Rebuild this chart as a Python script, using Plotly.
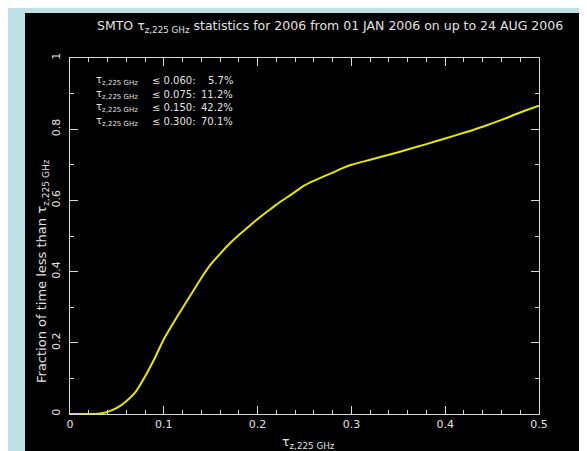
import plotly.graph_objects as go

# ---- data ----
tau = [0.0, 0.02, 0.03, 0.04, 0.05, 0.06, 0.07, 0.08, 0.09, 0.10,
       0.11, 0.12, 0.13, 0.14, 0.15, 0.16, 0.17, 0.18, 0.19, 0.20,
       0.21, 0.22, 0.23, 0.24, 0.25, 0.26, 0.27, 0.28, 0.29, 0.30,
       0.32, 0.34, 0.36, 0.38, 0.40, 0.42, 0.44, 0.46, 0.48, 0.50]
frac = [0.0, 0.0, 0.001, 0.006, 0.017, 0.036, 0.062, 0.105, 0.155, 0.21,
        0.255, 0.298, 0.34, 0.382, 0.42, 0.45, 0.478, 0.503, 0.525, 0.548,
        0.568, 0.588, 0.606, 0.624, 0.642, 0.655, 0.667, 0.678, 0.69, 0.70,
        0.714, 0.728, 0.743, 0.758, 0.774, 0.79, 0.807, 0.826, 0.847, 0.866]

thresholds = ["0.060", "0.075", "0.150", "0.300"]
percents = ["5.7%", "11.2%", "42.2%", "70.1%"]

x_ticks = [0, 0.1, 0.2, 0.3, 0.4, 0.5]
x_ticklabels = ["0", "0.1", "0.2", "0.3", "0.4", "0.5"]
y_ticks = [0, 0.2, 0.4, 0.6, 0.8, 1]
y_ticklabels = ["0", "0.2", "0.4", "0.6", "0.8", "1"]

# ---- layout geometry (pixels) ----
W, H = 587, 451
L, R, T, B = 62, 531, 50, 406   # plot box


def px(x):
    return (x - L) / (R - L)


def py(y):
    return (B - y) / (B - T)


TXT = "#e2e2e2"
FONT = "DejaVu Sans"
sub = "τ<sub>z,225 GHz</sub>"

fig = go.Figure()
fig.add_trace(go.Scatter(x=tau, y=frac, mode="lines",
                         line=dict(color="#e6e600", width=2, shape="spline",
                                   smoothing=0.6),
                         hoverinfo="skip", showlegend=False))

axis_common = dict(showline=True, linecolor="#d8d8d8", linewidth=1,
                   mirror="ticks", ticks="inside", tickcolor="#d8d8d8",
                   tickwidth=1, ticklen=8, showgrid=False, zeroline=False,
                   tickfont=dict(family=FONT, size=11, color=TXT),
                   layer="below traces")

fig.update_xaxes(range=[0, 0.5], tickvals=x_ticks, ticktext=x_ticklabels,
                 minor=dict(dtick=0.02, tick0=0, ticks="inside", ticklen=4,
                            tickcolor="#d8d8d8", showgrid=False),
                 **axis_common)
fig.update_yaxes(range=[0, 1], tickvals=y_ticks, ticktext=y_ticklabels,
                 tickangle=-90, ticklabelstandoff=5,
                 minor=dict(dtick=0.1, tick0=0, ticks="inside", ticklen=4,
                            tickcolor="#d8d8d8", showgrid=False),
                 **axis_common)

annotations = [
    dict(text=f"SMTO {sub} statistics for 2006 from 01 JAN 2006 on up to 24 AUG 2006",
         x=px(322), y=py(18), xanchor="center", yanchor="middle", size=12.5),
    dict(text=sub, x=px(300), y=py(434), xanchor="center", yanchor="middle", size=12.5),
    dict(text=f"Fraction of time less than {sub}", x=px(34), y=py(263),
         textangle=-90, xanchor="center", yanchor="middle", size=13),
]
row_y = [72, 86, 99.5, 113]
for yy, th, pc in zip(row_y, thresholds, percents):
    annotations.append(dict(text=sub, x=px(86), y=py(yy), xanchor="left", yanchor="middle", size=10))
    annotations.append(dict(text=f"≤ {th}:", x=px(142), y=py(yy), xanchor="left", yanchor="middle", size=10))
    annotations.append(dict(text=pc, x=px(227), y=py(yy), xanchor="right", yanchor="middle", size=10))

for a in annotations:
    s = a.pop("size")
    a.update(xref="paper", yref="paper", showarrow=False,
             font=dict(family=FONT, size=s, color=TXT))

fig.update_layout(
    width=W, height=H,
    margin=dict(l=L, r=W - R, t=T, b=H - B, pad=0),
    paper_bgcolor="#bde2e6",
    plot_bgcolor="#000000",
    annotations=annotations,
    shapes=[dict(type="rect", xref="paper", yref="paper",
                 x0=px(17), x1=px(576), y0=py(470), y1=py(5),
                 fillcolor="#000000", line=dict(width=0), layer="below")],
    showlegend=False,
)

fig.write_html("out.html")
